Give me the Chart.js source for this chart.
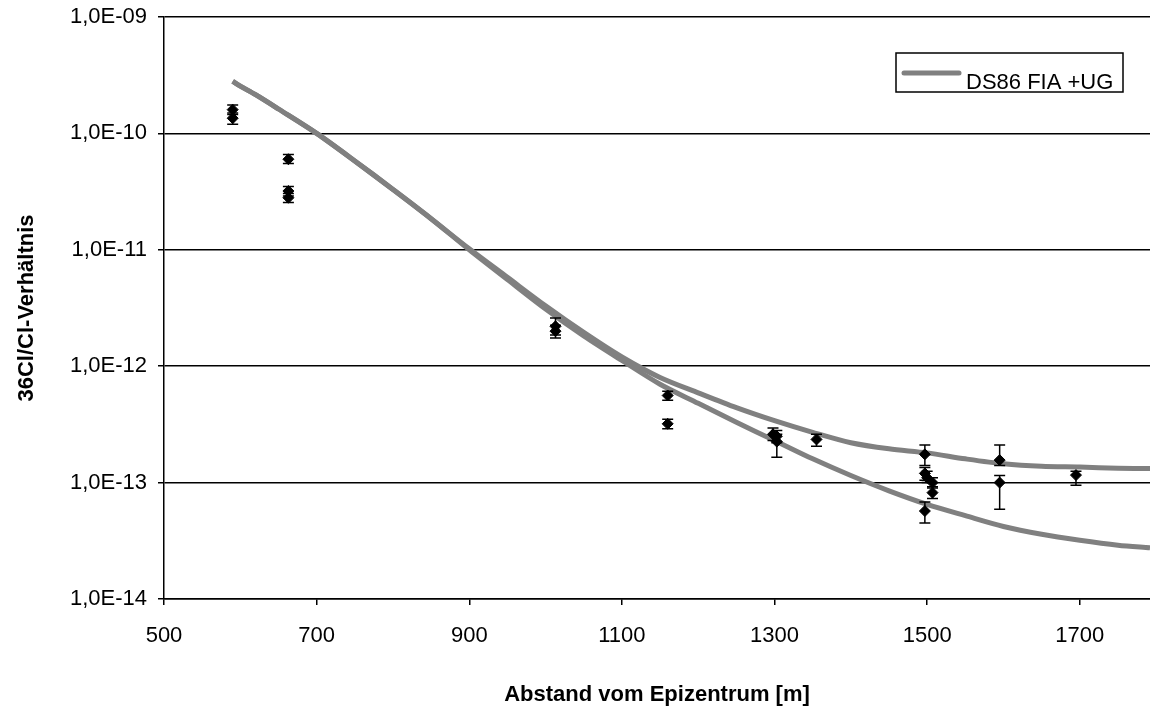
<!DOCTYPE html>
<html>
<head>
<meta charset="utf-8">
<title>36Cl/Cl-Verhältnis</title>
<script src="https://cdn.jsdelivr.net/npm/chart.js@4.4.0/dist/chart.umd.min.js"></script>
<style>
  html, body { margin: 0; padding: 0; background: #fff; }
  #wrap { width: 1150px; height: 713px; }
</style>
</head>
<body>
<div id="wrap"><canvas id="chart" width="1150" height="713"></canvas></div>
<script>
// Messwerte (Abstand in m, Verhältnis) mit Fehlerbalken
const pointX = [590, 590, 663, 663, 663, 1013, 1013, 1160, 1160, 1298, 1303, 1303, 1355, 1497, 1497, 1500, 1497, 1507, 1507, 1595, 1595, 1695];
const pointY = [1.6e-10, 1.35e-10, 6.0e-11, 3.2e-11, 2.8e-11, 2.2e-12, 2.0e-12, 5.6e-13, 3.2e-13, 2.6e-13, 2.5e-13, 2.25e-13, 2.35e-13, 1.75e-13, 1.2e-13, 1.1e-13, 5.7e-14, 1.0e-13, 8.2e-14, 1.56e-13, 1.0e-13, 1.16e-13];
const errLow = [1.45e-10, 1.2e-10, 5.5e-11, 2.9e-11, 2.55e-11, 1.85e-12, 1.75e-12, 5.1e-13, 2.9e-13, 2.3e-13, 2.2e-13, 1.65e-13, 2.05e-13, 1.4e-13, 1.05e-13, 1.0e-13, 4.5e-14, 9.0e-14, 7.3e-14, 1.4e-13, 5.9e-14, 9.5e-14];
const errHigh = [1.75e-10, 1.5e-10, 6.6e-11, 3.5e-11, 3.05e-11, 2.6e-12, 2.25e-12, 6.1e-13, 3.5e-13, 2.95e-13, 2.8e-13, 2.6e-13, 2.6e-13, 2.1e-13, 1.35e-13, 1.25e-13, 6.8e-14, 1.1e-13, 9.2e-14, 2.1e-13, 1.15e-13, 1.25e-13];

// Rechenkurven DS86 FIA +UG
const curveX = [590, 600, 620, 650, 700, 750, 800, 850, 900, 950, 1000, 1050, 1100, 1150, 1200, 1250, 1300, 1350, 1400, 1450, 1500, 1550, 1600, 1650, 1700, 1750, 1792];
const curveUpper = [2.8e-10, 2.55e-10, 2.15e-10, 1.62e-10, 1.0e-10, 5.8e-11, 3.3e-11, 1.85e-11, 1.02e-11, 5.8e-12, 3.3e-12, 1.95e-12, 1.2e-12, 8.0e-13, 5.9e-13, 4.4e-13, 3.4e-13, 2.7e-13, 2.2e-13, 1.95e-13, 1.8e-13, 1.6e-13, 1.45e-13, 1.38e-13, 1.36e-13, 1.33e-13, 1.32e-13];
const curveLower = [2.8e-10, 2.55e-10, 2.15e-10, 1.62e-10, 1.0e-10, 5.8e-11, 3.3e-11, 1.85e-11, 1.0e-11, 5.55e-12, 3.1e-12, 1.82e-12, 1.12e-12, 7.0e-13, 4.8e-13, 3.3e-13, 2.3e-13, 1.6e-13, 1.15e-13, 8.5e-14, 6.5e-14, 5.2e-14, 4.2e-14, 3.6e-14, 3.2e-14, 2.9e-14, 2.75e-14];

const xTicks = [500, 700, 900, 1100, 1300, 1500, 1700];
const yTicks = [1e-14, 1e-13, 1e-12, 1e-11, 1e-10, 1e-9];

const FONT = "'Liberation Sans', Arial, sans-serif";

function fmtExp(v) {
  const e = Math.round(Math.log10(v));
  return "1,0E" + (e < 0 ? "-" : "+") + String(Math.abs(e)).padStart(2, "0");
}

// Fehlerbalken unter die Rauten zeichnen
const errorBars = {
  id: "errorBars",
  beforeDatasetDraw(chart, args) {
    if (args.index !== 0) return;
    const { ctx, scales: { x, y } } = chart;
    ctx.save();
    ctx.strokeStyle = "#000";
    ctx.lineWidth = 1.5;
    pointX.forEach((px, i) => {
      const cx = x.getPixelForValue(px);
      const yLo = y.getPixelForValue(errLow[i]);
      const yHi = y.getPixelForValue(errHigh[i]);
      ctx.beginPath();
      ctx.moveTo(cx, yLo); ctx.lineTo(cx, yHi);
      ctx.moveTo(cx - 5.5, yLo); ctx.lineTo(cx + 5.5, yLo);
      ctx.moveTo(cx - 5.5, yHi); ctx.lineTo(cx + 5.5, yHi);
      ctx.stroke();
    });
    ctx.restore();
  }
};

// Legende im Diagramm mit Rahmen
const boxLegend = {
  id: "boxLegend",
  afterDraw(chart) {
    const { ctx, chartArea } = chart;
    const ds = chart.data.datasets[1];
    const left = chartArea.right - 254, top = chartArea.top + 36;
    const w = 227, h = 39;
    ctx.save();
    ctx.fillStyle = "#fff";
    ctx.fillRect(left, top, w, h);
    ctx.strokeStyle = "#000";
    ctx.lineWidth = 1.5;
    ctx.strokeRect(left, top, w, h);
    ctx.strokeStyle = ds.borderColor;
    ctx.lineWidth = ds.borderWidth;
    ctx.lineCap = "round";
    ctx.beginPath();
    ctx.moveTo(left + 8, top + 20);
    ctx.lineTo(left + 63, top + 20);
    ctx.stroke();
    ctx.fillStyle = "#000";
    ctx.font = "22px " + FONT;
    ctx.textBaseline = "alphabetic";
    ctx.fillText(ds.label, left + 70, top + 36);
    ctx.restore();
  }
};

new Chart(document.getElementById("chart"), {
  data: {
    datasets: [
      {
        type: "scatter",
        label: "Messwerte",
        data: pointX.map((v, i) => ({ x: v, y: pointY[i] })),
        pointStyle: "rectRot",
        pointRadius: 5.5,
        pointBackgroundColor: "#000",
        pointBorderColor: "#000",
        pointBorderWidth: 1
      },
      {
        type: "line",
        label: "DS86 FIA +UG",
        data: curveX.map((v, i) => ({ x: v, y: curveUpper[i] })),
        borderColor: "#808080",
        borderWidth: 5,
        pointRadius: 0,
        tension: 0.3,
        fill: false
      },
      {
        type: "line",
        label: "DS86 FIA +UG (2)",
        data: curveX.map((v, i) => ({ x: v, y: curveLower[i] })),
        borderColor: "#808080",
        borderWidth: 5,
        pointRadius: 0,
        tension: 0.3,
        fill: false
      }
    ]
  },
  options: {
    responsive: false,
    animation: false,
    layout: { autoPadding: false, padding: { left: 0, right: 0, top: 17, bottom: 0 } },
    plugins: {
      legend: { display: false },
      tooltip: { enabled: false }
    },
    scales: {
      x: {
        type: "linear",
        min: 500,
        max: 1792,
        afterBuildTicks: (s) => { s.ticks = xTicks.map(v => ({ value: v })); },
        afterFit: (s) => { s.height = 114; s.paddingLeft = 0; s.paddingRight = 0; },
        ticks: {
          color: "#000",
          font: { family: FONT, size: 22 },
          padding: 18,
          maxRotation: 0,
          callback: (v) => String(v)
        },
        grid: { drawOnChartArea: false, drawTicks: true, tickLength: 6, color: "#000", lineWidth: 1.5 },
        border: { display: true, color: "#000", width: 1.5 },
        title: {
          display: true,
          text: "Abstand vom Epizentrum [m]",
          color: "#000",
          font: { family: FONT, size: 22, weight: "bold" },
          padding: { top: 0, bottom: 5 }
        }
      },
      y: {
        type: "logarithmic",
        min: 1e-14,
        max: 1e-9,
        afterBuildTicks: (s) => { s.ticks = yTicks.map(v => ({ value: v })); },
        afterFit: (s) => { s.width = 164; s.paddingTop = 0; s.paddingBottom = 0; },
        ticks: {
          color: "#000",
          font: { family: FONT, size: 22 },
          padding: 11,
          callback: (v) => fmtExp(v)
        },
        grid: { drawOnChartArea: true, drawTicks: true, tickLength: 6, color: "#000", lineWidth: 1.5 },
        border: { display: true, color: "#000", width: 1.5 },
        title: {
          display: true,
          text: "36Cl/Cl-Verhältnis",
          color: "#000",
          font: { family: FONT, size: 22, weight: "bold" },
          padding: { top: 14, bottom: 0 }
        }
      }
    }
  },
  plugins: [errorBars, boxLegend]
});
</script>
</body>
</html>
